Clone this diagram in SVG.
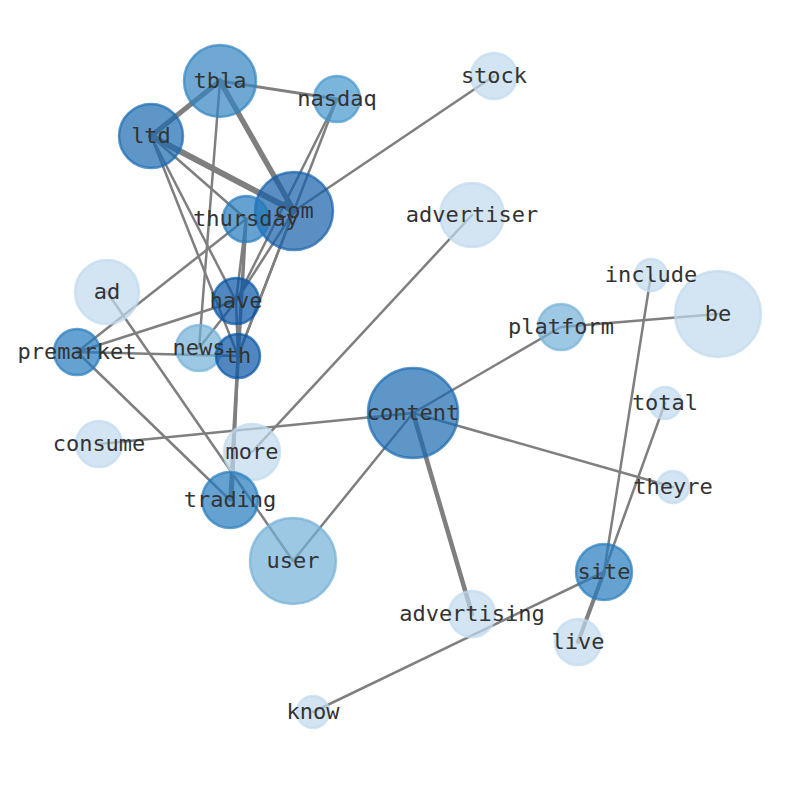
<svg xmlns="http://www.w3.org/2000/svg" width="794" height="790" viewBox="0 0 794 790">
<style>
.e{stroke:#7f7f7f;stroke-linecap:round;fill:none}
.n{fill-opacity:0.7;stroke-opacity:0.7;stroke-width:2.5}
.d5{fill:#0554a5;stroke:#0554a5}
.d4{fill:#155fab;stroke:#155fab}
.d3{fill:#1a69b0;stroke:#1a69b0}
.d2{fill:#247abd;stroke:#247abd}
.d1{fill:#3183c0;stroke:#3183c0}
.m1{fill:#4595cd;stroke:#4595cd}
.m0{fill:#73b0d7;stroke:#73b0d7}
.l0{fill:#c0daee;stroke:#c0daee}
text{font-family:"DejaVu Sans Mono","Liberation Mono",monospace;font-size:22px;fill:#333333;text-anchor:middle}
</style>
<rect width="794" height="790" fill="#ffffff"/>
<g id="connectors">
<line class="e" stroke-width="3" x1="220" y1="81" x2="337" y2="99"/>
<line class="e" stroke-width="5" x1="220" y1="81" x2="151" y2="136"/>
<line class="e" stroke-width="5.5" x1="220" y1="81" x2="294" y2="211"/>
<line class="e" stroke-width="2.5" x1="220" y1="81" x2="199" y2="348"/>
<line class="e" stroke-width="6" x1="151" y1="136" x2="294" y2="211"/>
<line class="e" stroke-width="2.5" x1="151" y1="136" x2="246" y2="219"/>
<line class="e" stroke-width="2.5" x1="151" y1="136" x2="236" y2="301"/>
<line class="e" stroke-width="2.5" x1="151" y1="136" x2="238" y2="356"/>
<line class="e" stroke-width="2.5" x1="337" y1="99" x2="236" y2="301"/>
<line class="e" stroke-width="2.5" x1="337" y1="99" x2="238" y2="356"/>
<line class="e" stroke-width="2.5" x1="294" y1="211" x2="494" y2="76"/>
<line class="e" stroke-width="2.5" x1="294" y1="211" x2="236" y2="301"/>
<line class="e" stroke-width="2.5" x1="294" y1="211" x2="238" y2="356"/>
<line class="e" stroke-width="2.5" x1="246" y1="219" x2="77" y2="352"/>
<line class="e" stroke-width="2.5" x1="246" y1="219" x2="236" y2="301"/>
<line class="e" stroke-width="3.5" x1="246" y1="219" x2="230" y2="500"/>
<line class="e" stroke-width="2.5" x1="236" y1="301" x2="238" y2="356"/>
<line class="e" stroke-width="3" x1="238" y1="356" x2="232" y2="500"/>
<line class="e" stroke-width="2.5" x1="77" y1="352" x2="236" y2="301"/>
<line class="e" stroke-width="2.5" x1="77" y1="352" x2="238" y2="356"/>
<line class="e" stroke-width="2.5" x1="77" y1="352" x2="230" y2="500"/>
<line class="e" stroke-width="2.5" x1="199" y1="348" x2="236" y2="301"/>
<line class="e" stroke-width="2.5" x1="107" y1="292" x2="293" y2="561"/>
<line class="e" stroke-width="2.5" x1="472" y1="215" x2="252" y2="452"/>
<line class="e" stroke-width="2.5" x1="413" y1="413" x2="99" y2="444"/>
<line class="e" stroke-width="2.5" x1="413" y1="413" x2="561" y2="327"/>
<line class="e" stroke-width="2.5" x1="413" y1="413" x2="673" y2="487"/>
<line class="e" stroke-width="2.5" x1="413" y1="413" x2="293" y2="561"/>
<line class="e" stroke-width="4.5" x1="413" y1="413" x2="472" y2="614"/>
<line class="e" stroke-width="2.5" x1="561" y1="327" x2="718" y2="314"/>
<line class="e" stroke-width="2.5" x1="651" y1="275" x2="604" y2="572"/>
<line class="e" stroke-width="2.5" x1="665" y1="403" x2="604" y2="572"/>
<line class="e" stroke-width="4" x1="604" y1="572" x2="578" y2="642"/>
<line class="e" stroke-width="2.5" x1="604" y1="572" x2="313" y2="712"/>
</g>
<g id="node-be"><circle class="n l0" cx="718" cy="314" r="43"/></g>
<g id="node-content"><circle class="n d3" cx="413" cy="413" r="45"/></g>
<g id="node-user"><circle class="n m0" cx="293" cy="561" r="43"/></g>
<g id="node-com"><circle class="n d4" cx="294" cy="211" r="39"/></g>
<g id="node-tbla"><circle class="n d1" cx="220" cy="81" r="36"/></g>
<g id="node-ltd"><circle class="n d3" cx="151" cy="136" r="32"/></g>
<g id="node-advertiser"><circle class="n l0" cx="472" cy="215" r="32"/></g>
<g id="node-ad"><circle class="n l0" cx="107" cy="292" r="32"/></g>
<g id="node-more"><circle class="n l0" cx="252" cy="452" r="28"/></g>
<g id="node-trading"><circle class="n d2" cx="230" cy="500" r="28"/></g>
<g id="node-site"><circle class="n d2" cx="604" cy="572" r="28"/></g>
<g id="node-nasdaq"><circle class="n m1" cx="337" cy="99" r="23"/></g>
<g id="node-thursday"><circle class="n d2" cx="246" cy="219" r="23"/></g>
<g id="node-stock"><circle class="n l0" cx="494" cy="76" r="23"/></g>
<g id="node-have"><circle class="n d5" cx="236" cy="301" r="23"/></g>
<g id="node-news"><circle class="n m0" cx="199" cy="348" r="23"/></g>
<g id="node-th"><circle class="n d5" cx="238" cy="356" r="22"/></g>
<g id="node-premarket"><circle class="n d2" cx="77" cy="352" r="23"/></g>
<g id="node-platform"><circle class="n m0" cx="561" cy="327" r="23"/></g>
<g id="node-consume"><circle class="n l0" cx="99" cy="444" r="23"/></g>
<g id="node-advertising"><circle class="n l0" cx="472" cy="614" r="23"/></g>
<g id="node-live"><circle class="n l0" cx="578" cy="642" r="23"/></g>
<g id="node-include"><circle class="n l0" cx="651" cy="275" r="16"/></g>
<g id="node-total"><circle class="n l0" cx="665" cy="403" r="16"/></g>
<g id="node-theyre"><circle class="n l0" cx="673" cy="487" r="16"/></g>
<g id="node-know"><circle class="n l0" cx="313" cy="712" r="16"/></g>
<g id="labels">
<text x="718" y="320.5">be</text>
<text x="413" y="419.5">content</text>
<text x="293" y="567.5">user</text>
<text x="294" y="217.5">com</text>
<text x="220" y="87.5">tbla</text>
<text x="151" y="142.5">ltd</text>
<text x="472" y="221.5">advertiser</text>
<text x="107" y="298.5">ad</text>
<text x="252" y="458.5">more</text>
<text x="230" y="506.5">trading</text>
<text x="604" y="578.5">site</text>
<text x="337" y="105.5">nasdaq</text>
<text x="246" y="225.5">thursday</text>
<text x="494" y="82.5">stock</text>
<text x="236" y="307.5">have</text>
<text x="199" y="354.5">news</text>
<text x="238" y="362.5">th</text>
<text x="77" y="358.5">premarket</text>
<text x="561" y="333.5">platform</text>
<text x="99" y="450.5">consume</text>
<text x="472" y="620.5">advertising</text>
<text x="578" y="648.5">live</text>
<text x="651" y="281.5">include</text>
<text x="665" y="409.5">total</text>
<text x="673" y="493.5">theyre</text>
<text x="313" y="718.5">know</text>
</g>
</svg>
